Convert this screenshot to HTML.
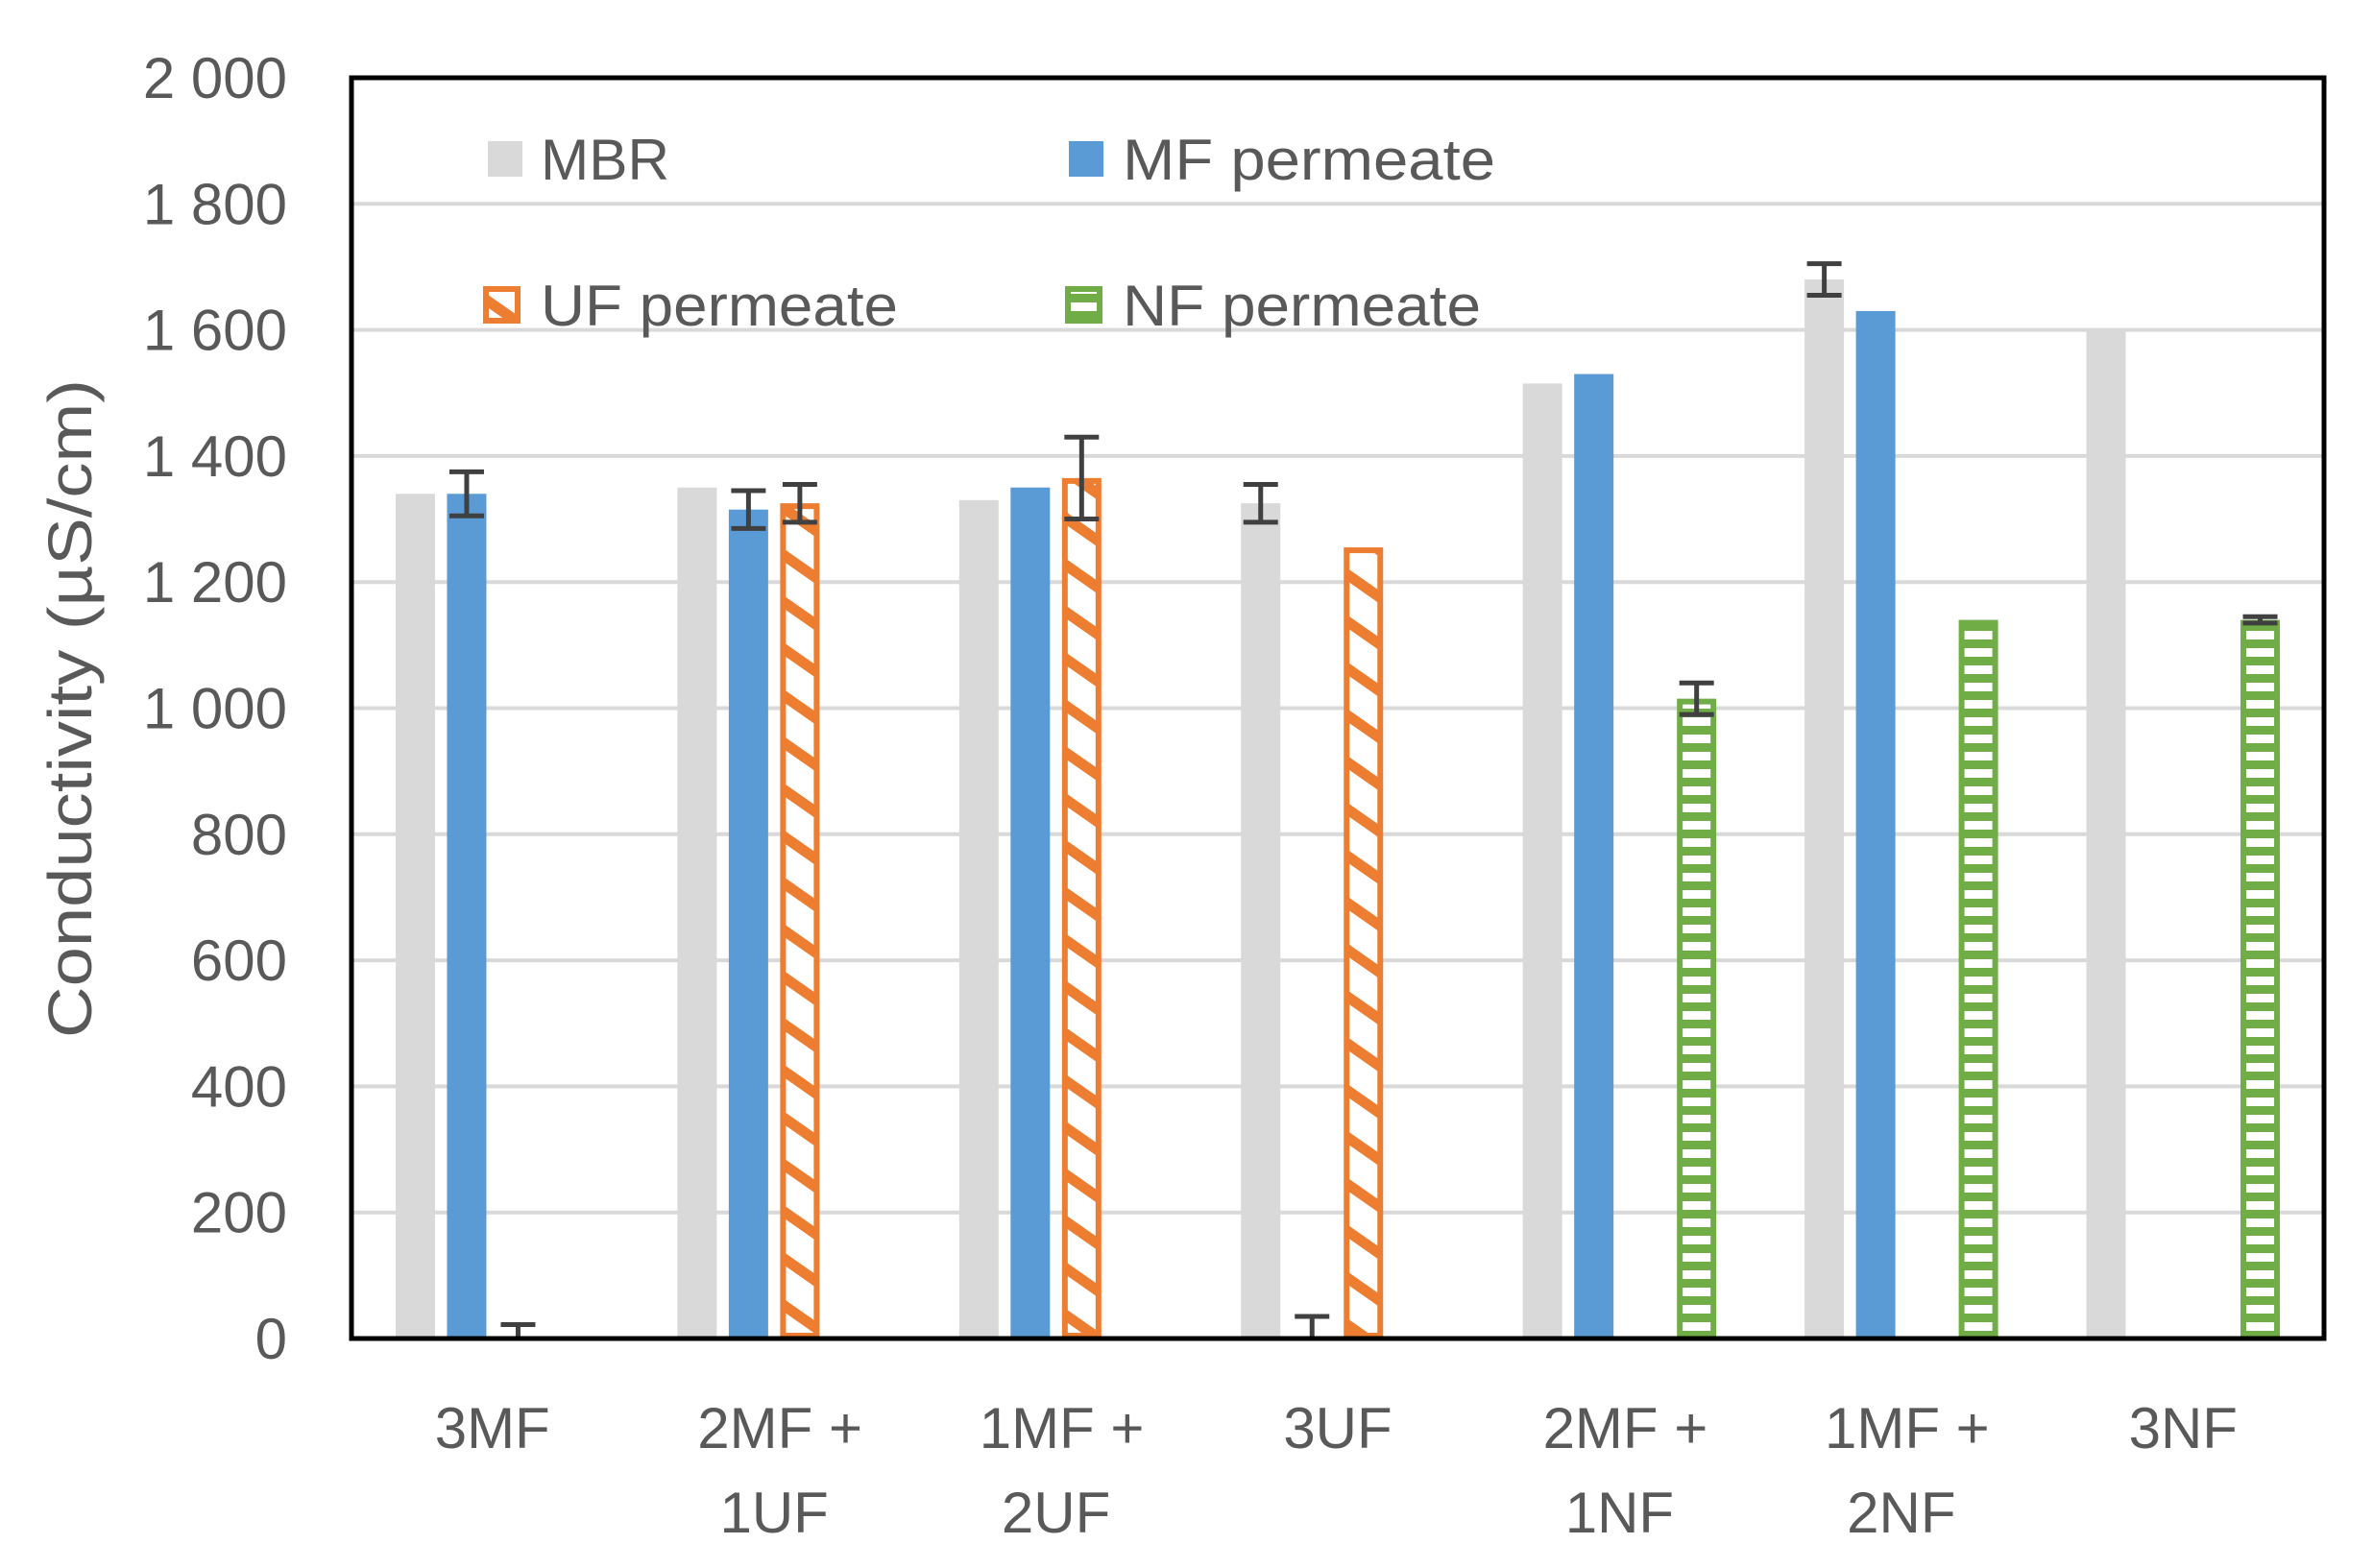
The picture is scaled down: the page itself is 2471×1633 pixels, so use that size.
<!DOCTYPE html>
<html><head><meta charset="utf-8"><style>
html,body{margin:0;padding:0;background:#fff;}
svg{display:block;font-family:"Liberation Sans",sans-serif;}
</style></head><body>
<svg id="chart" width="2471" height="1633" viewBox="0 0 2471 1633" xmlns="http://www.w3.org/2000/svg">
<defs>
<pattern id="ufHatch" patternUnits="userSpaceOnUse" width="40" height="40" patternTransform="rotate(35)">
<rect width="40" height="40" fill="#fff"/>
<rect width="40" height="11" fill="#ed7d31"/>
</pattern>
<pattern id="nfHatch" patternUnits="userSpaceOnUse" width="20" height="18">
<rect width="20" height="18" fill="#fff"/>
<rect width="20" height="9" fill="#70ad47"/>
</pattern>
</defs>
<g id="grid"></g>
<g id="bars"></g>
<g id="errs"></g>
<rect x="366" y="81" width="2054" height="1313" fill="none" stroke="#000" stroke-width="5"/>
<g id="yticks"></g>
<g id="xticks"></g>
<text transform="translate(95,738) rotate(-90)" text-anchor="middle" font-size="64" fill="#595959" textLength="686" lengthAdjust="spacingAndGlyphs">Conductivity (µS/cm)</text>
<g>
<g><rect x="508" y="147" width="36" height="37" fill="#d9d9d9"/><text x="563" y="187" font-size="60" fill="#595959" textLength="134" lengthAdjust="spacingAndGlyphs">MBR</text></g>
<g><rect x="1113" y="147" width="36" height="37" fill="#5b9bd5"/><text x="1169" y="187" font-size="60" fill="#595959" textLength="388" lengthAdjust="spacingAndGlyphs">MF permeate</text></g>
<g><rect x="506" y="301" width="33" height="33" fill="url(#ufHatch)" stroke="#ed7d31" stroke-width="6"/><text x="563" y="339" font-size="60" fill="#595959" textLength="372" lengthAdjust="spacingAndGlyphs">UF permeate</text></g>
<g><rect x="1112" y="301" width="33" height="33" fill="url(#nfHatch)" stroke="#70ad47" stroke-width="6"/><text x="1169" y="339" font-size="60" fill="#595959" textLength="373" lengthAdjust="spacingAndGlyphs">NF permeate</text></g>
</g>
</svg>
<script>
const categories = [["3MF"],["2MF +","1UF"],["1MF +","2UF"],["3UF"],["2MF +","1NF"],["1MF +","2NF"],["3NF"]];
const mbrValues = [1340,1350,1330,1325,1515,1680,1600];
const mfValues = [1340,1315,1350,0,1530,1630,null];
const ufValues = [0,1325,1365,1255,null,null,null];
const nfValues = [null,null,null,null,1015,1140,1140];
const mbrErr = [0,0,0,30,0,25,0];
const mfErr = [35,30,0,35,0,0,null];
const ufErr = [22,30,65,0,null,null,null];
const nfErr = [null,null,null,null,25,0,5];
const yTicks = [0,200,400,600,800,1000,1200,1400,1600,1800,2000];
const yTickLabels = ["0","200","400","600","800","1 000","1 200","1 400","1 600","1 800","2 000"];

const NS="http://www.w3.org/2000/svg";
const plotL=366, plotR=2420, y0=1394, pxPerUnit=0.6565;
const groupW=(plotR-plotL)/categories.length, barW=41, step=53.5;
function yScale(v){return y0 - v*pxPerUnit;}
function xCenter(ci,si){return plotL + groupW*(ci+0.5) + (si-1.5)*step;}
function mk(tag,attrs,parent){const e=document.createElementNS(NS,tag);for(const k in attrs)e.setAttribute(k,attrs[k]);parent.appendChild(e);return e;}

const grid=document.getElementById('grid');
const yt=document.getElementById('yticks');
yTicks.forEach((v,i)=>{
  if(v>0&&v<2000){
    const l=mk('line',{x1:plotL,x2:plotR,y1:yScale(v),y2:yScale(v),stroke:'#d9d9d9','stroke-width':4},grid);
    
    
  }
  const t=mk('text',{x:299,y:yScale(v)+21,'text-anchor':'end','font-size':60,fill:'#595959'},yt);
  t.textContent=yTickLabels[i];
  
  
});

const series=[
  {name:'mbr',vals:mbrValues,errs:mbrErr,fill:'#d9d9d9',stroke:null},
  {name:'mf',vals:mfValues,errs:mfErr,fill:'#5b9bd5',stroke:null},
  {name:'uf',vals:ufValues,errs:ufErr,fill:'url(#ufHatch)',stroke:'#ed7d31'},
  {name:'nf',vals:nfValues,errs:nfErr,fill:'url(#nfHatch)',stroke:'#70ad47'}
];
const bars=document.getElementById('bars'), errs=document.getElementById('errs');
series.forEach((s,si)=>{
  s.vals.forEach((v,ci)=>{
    if(v===null) return;
    const cx=xCenter(ci,si);
    if(v>0){
      const sw=s.stroke?6:0;
      const r=mk('rect',{x:cx-barW/2+sw/2,y:yScale(v)+sw/2,width:barW-sw,height:v*pxPerUnit-sw,fill:s.fill},bars);
      if(s.stroke){r.setAttribute('stroke',s.stroke);r.setAttribute('stroke-width',sw);}
      
      
    }
    const e=s.errs[ci];
    if(e){
      const g=mk('g',{stroke:'#404040','stroke-width':5},errs);
      
      
      const lo=Math.max(0,v-e), hi=v+e;
      mk('line',{x1:cx,x2:cx,y1:yScale(lo),y2:yScale(hi)},g);
      mk('line',{x1:cx-18,x2:cx+18,y1:yScale(hi),y2:yScale(hi)},g);
      if(v-e>0) mk('line',{x1:cx-18,x2:cx+18,y1:yScale(lo),y2:yScale(lo)},g);
    }
  });
});

const xt=document.getElementById('xticks');
categories.forEach((c,ci)=>{
  const cx=plotL+groupW*(ci+0.5);
  c.forEach((line,li)=>{
    const t=mk('text',{x:cx+(li===0&&c.length>1?6:0),y:1508+li*88,'text-anchor':'middle','font-size':60,fill:'#595959'},xt);
    t.textContent=line;
    
    
  });
});
</script>
</body></html>
